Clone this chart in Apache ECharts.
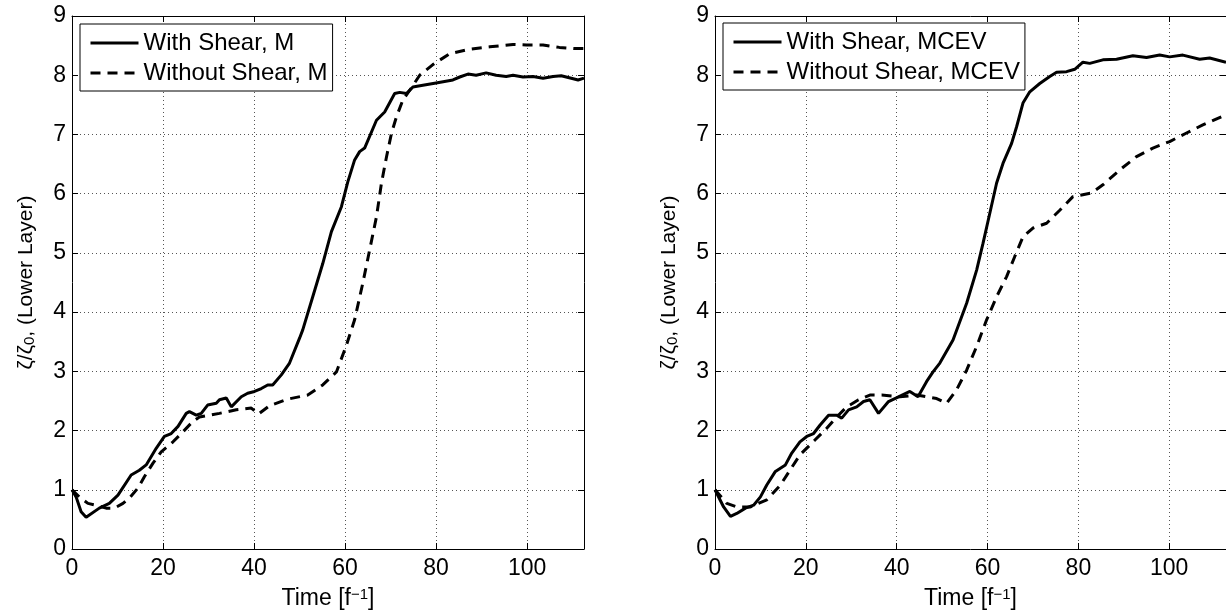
<!DOCTYPE html>
<html>
<head>
<meta charset="utf-8">
<script src="https://cdn.jsdelivr.net/npm/echarts@6/dist/echarts.min.js"></script>
<style>
  html, body { margin: 0; padding: 0; background: #fff; }
  #main { width: 1226px; height: 616px; }
</style>
</head>
<body>
<div id="main"></div>
<script>
// 左图：M 模式
var shearMT = [0, 0.9, 2.0, 3.1, 6.0, 8.2, 10.1, 13, 14.8, 16.3, 18.5, 20.3, 21.8, 23.3, 25.1, 25.8, 27.3, 28.4, 29.8, 31.7, 32.4, 33.9, 35.0, 37.2, 38.6, 40.1, 41.6, 43.0, 44.1, 46.0, 47.8, 50.0, 50.7, 52.9, 55.1, 57.0, 59.2, 60.6, 62.1, 63.2, 64.3, 66.9, 68.7, 70.9, 72.0, 73.5, 74.9, 77.1, 80.0, 83.7, 85.2, 87.0, 88.8, 91.0, 93.2, 95.4, 96.9, 99.1, 101.3, 103.5, 105.7, 107.5, 109.7, 111.2, 112.5];
var shearMV = [1.0, 0.88, 0.63, 0.535, 0.69, 0.77, 0.91, 1.25, 1.33, 1.42, 1.70, 1.90, 1.95, 2.07, 2.29, 2.32, 2.26, 2.29, 2.43, 2.46, 2.52, 2.55, 2.40, 2.57, 2.63, 2.66, 2.71, 2.77, 2.77, 2.94, 3.14, 3.56, 3.70, 4.26, 4.82, 5.36, 5.78, 6.20, 6.57, 6.71, 6.77, 7.24, 7.38, 7.69, 7.71, 7.69, 7.80, 7.83, 7.87, 7.92, 7.97, 8.02, 8.00, 8.04, 8.00, 7.98, 8.00, 7.97, 7.98, 7.95, 7.98, 7.99, 7.95, 7.92, 7.95];
var noShearMT = [0, 1.6, 3.5, 5.3, 7.5, 9.3, 11.2, 12.6, 14.5, 15.9, 17.8, 19.6, 22.2, 24.4, 26.5, 28.0, 30.2, 32.4, 36.1, 39.4, 41.0, 43.4, 47.4, 51.8, 55.1, 58.1, 60.2, 62.1, 63.9, 65.4, 66.9, 68.0, 69.1, 70.2, 71.3, 72.7, 74.5, 76.4, 79.3, 82.9, 87.4, 91.8, 96.9, 99.8, 103.5, 107.1, 110.4, 112.5];
var noShearMV = [1.0, 0.88, 0.77, 0.74, 0.69, 0.69, 0.77, 0.86, 1.03, 1.22, 1.45, 1.64, 1.81, 1.98, 2.15, 2.23, 2.26, 2.29, 2.35, 2.38, 2.28, 2.42, 2.53, 2.60, 2.77, 2.99, 3.42, 3.87, 4.49, 5.05, 5.61, 6.18, 6.62, 7.02, 7.30, 7.58, 7.78, 8.00, 8.18, 8.36, 8.44, 8.48, 8.52, 8.51, 8.51, 8.47, 8.45, 8.45];
// 右图：MCEV 模式
var shearCT = [0, 0.4, 1.9, 3.4, 4.8, 6.7, 8.5, 10.0, 11.4, 13.3, 15.5, 16.9, 18.7, 20.2, 21.7, 23.1, 25.0, 26.8, 27.9, 29.4, 31.2, 32.7, 34.1, 36.0, 38.2, 40.4, 42.9, 44.7, 46.6, 48.0, 49.5, 52.4, 55.4, 57.6, 59.0, 60.5, 62.0, 63.4, 65.3, 66.4, 67.8, 69.3, 71.5, 73.7, 75.2, 77.4, 79.2, 81.0, 82.5, 85.4, 88.4, 92.0, 95.0, 97.9, 100.1, 103.0, 106.7, 108.9, 112.5];
var shearCV = [1.0, 0.97, 0.71, 0.55, 0.60, 0.69, 0.74, 0.88, 1.08, 1.31, 1.42, 1.62, 1.81, 1.90, 1.95, 2.09, 2.26, 2.26, 2.21, 2.35, 2.40, 2.49, 2.52, 2.29, 2.49, 2.57, 2.66, 2.57, 2.83, 2.99, 3.14, 3.53, 4.15, 4.71, 5.16, 5.67, 6.18, 6.51, 6.85, 7.13, 7.53, 7.72, 7.86, 7.98, 8.05, 8.06, 8.10, 8.22, 8.20, 8.26, 8.27, 8.33, 8.30, 8.34, 8.31, 8.34, 8.27, 8.29, 8.22];
var noShearCT = [0, 2.6, 4.8, 7.8, 11.4, 14.4, 16.5, 18.7, 22.0, 24.6, 26.8, 29.0, 31.6, 34.1, 36.7, 40.7, 44.4, 48.8, 51.0, 53.2, 55.4, 57.6, 59.8, 62.0, 64.2, 66.0, 67.8, 70.0, 73.0, 75.9, 78.8, 82.9, 85.4, 89.1, 92.7, 96.4, 100.1, 103.7, 107.4, 112.5];
var noShearCV = [1.0, 0.77, 0.71, 0.71, 0.83, 1.08, 1.33, 1.59, 1.84, 2.04, 2.23, 2.40, 2.52, 2.60, 2.60, 2.57, 2.60, 2.54, 2.46, 2.69, 3.02, 3.42, 3.87, 4.26, 4.60, 4.94, 5.27, 5.42, 5.50, 5.72, 5.95, 6.01, 6.15, 6.40, 6.62, 6.77, 6.88, 7.02, 7.16, 7.33];

var xTicks = [0, 20, 40, 60, 80, 100];
var yTicks = [0, 1, 2, 3, 4, 5, 6, 7, 8, 9];

var FONT = 'Liberation Sans, Arial, Helvetica, sans-serif';

let pairs = function(t, v){
	var out = [];
	for (var i = 0; i < t.length; i++) out.push([t[i], v[i]]);
	return out;
}

let xAxes = function(g){
	var bottom = {
		type: 'value', gridIndex: g, position: 'bottom',
		min: xTicks[0], max: 112.5, interval: xTicks[1] - xTicks[0],
		axisLine: { show: true, onZero: false, lineStyle: { color: '#000', width: 1 } },
		axisTick: { show: true, inside: true, length: 6, lineStyle: { color: '#000' } },
		axisLabel: { color: '#000', fontSize: 23, fontFamily: FONT, margin: 8, showMaxLabel: false },
		splitLine: { show: true, lineStyle: { color: '#555', type: [1, 3], width: 1 } },
		name: 'Time [f{sup|\u22121}]', nameLocation: 'middle', nameGap: 38,
		nameTextStyle: { color: '#000', fontSize: 23, fontFamily: FONT,
			rich: { sup: { fontSize: 15, fontFamily: FONT, color: '#000', verticalAlign: 'top' } } }
	};
	var top = {
		type: 'value', gridIndex: g, position: 'top',
		min: xTicks[0], max: 112.5, interval: xTicks[1] - xTicks[0],
		axisLine: { show: true, onZero: false, lineStyle: { color: '#000', width: 1 } },
		axisTick: { show: true, inside: true, length: 6, lineStyle: { color: '#000' } },
		axisLabel: { show: false }, splitLine: { show: false }
	};
	return [bottom, top];
}

let yAxes = function(g){
	var left = {
		type: 'value', gridIndex: g, position: 'left',
		min: yTicks[0], max: yTicks[yTicks.length - 1], interval: 1,
		axisLine: { show: true, onZero: false, lineStyle: { color: '#000', width: 1 } },
		axisTick: { show: true, inside: true, length: 6, lineStyle: { color: '#000' } },
		axisLabel: { color: '#000', fontSize: 23, fontFamily: FONT, margin: 6 },
		splitLine: { show: true, lineStyle: { color: '#555', type: [1, 3], width: 1 } },
		name: '\u03b6/\u03b6{sub|0}, (Lower Layer)', nameLocation: 'middle', nameGap: 35,
		nameTextStyle: { color: '#000', fontSize: 21, fontFamily: FONT,
			rich: { sub: { fontSize: 15, fontFamily: FONT, color: '#000', verticalAlign: 'bottom', padding: [6, 0, 0, 0] } } }
	};
	var right = {
		type: 'value', gridIndex: g, position: 'right',
		min: yTicks[0], max: yTicks[yTicks.length - 1], interval: 1,
		axisLine: { show: true, onZero: false, lineStyle: { color: '#000', width: 1 } },
		axisTick: { show: true, inside: true, length: 6, lineStyle: { color: '#000' } },
		axisLabel: { show: false }, splitLine: { show: false }
	};
	return [left, right];
}

let lineSeries = function(name, data, g, dashed){
	return {
		name: name, type: 'line', data: data,
		xAxisIndex: g * 2, yAxisIndex: g * 2,
		symbol: 'none', showSymbol: false, smooth: false,
		lineStyle: { color: '#000', width: 3, type: dashed ? [10, 7] : 'solid' },
		itemStyle: { color: '#000' }
	};
}

let legendBox = function(names, left, top){
	return {
		data: names, orient: 'vertical', left: left, top: top,
		itemWidth: 48, itemHeight: 14, itemGap: 6,
		padding: [7, 5, 6, 9],
		borderColor: '#000', borderWidth: 1, backgroundColor: '#fff',
		itemStyle: { opacity: 0 },
		lineStyle: { width: 3 },
		textStyle: { color: '#000', fontSize: 24, fontFamily: FONT },
		selectedMode: false
	};
}

var myChart = echarts.init(document.getElementById('main'), null, { renderer: 'canvas' });
var option = {
	animation: false,
	backgroundColor: '#fff',
	grid: [
		{ left: 72, top: 16, width: 512, height: 533 },
		{ left: 715, top: 16, width: 512, height: 533 }
	],
	xAxis: xAxes(0).concat(xAxes(1)),
	yAxis: yAxes(0).concat(yAxes(1)),
	legend: [
		legendBox(['With Shear, M', 'Without Shear, M'], 80, 24),
		legendBox(['With Shear, MCEV', 'Without Shear, MCEV'], 723, 23)
	],
	series: [
		lineSeries('With Shear, M', pairs(shearMT, shearMV), 0, false),
		lineSeries('Without Shear, M', pairs(noShearMT, noShearMV), 0, true),
		lineSeries('With Shear, MCEV', pairs(shearCT, shearCV), 1, false),
		lineSeries('Without Shear, MCEV', pairs(noShearCT, noShearCV), 1, true)
	]
};
myChart.setOption(option);
</script>
</body>
</html>
